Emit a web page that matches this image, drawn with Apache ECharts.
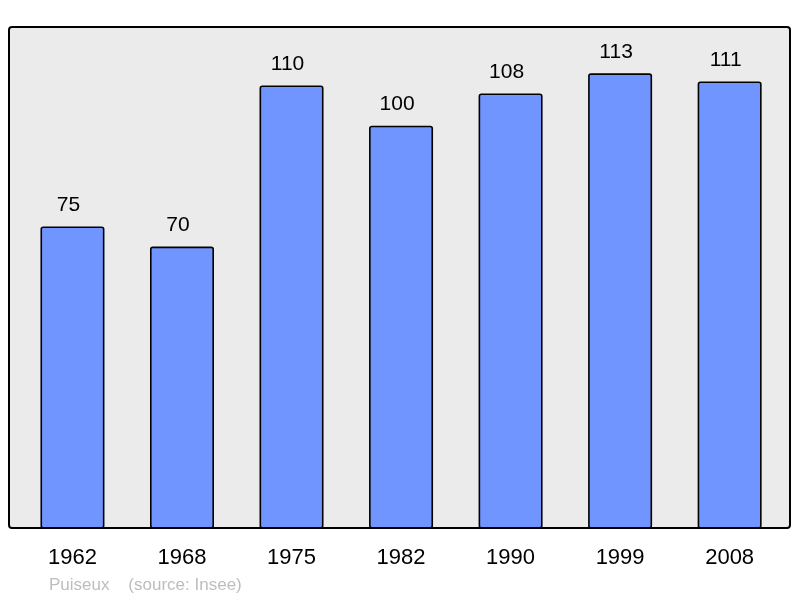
<!DOCTYPE html>
<html>
<head>
<meta charset="utf-8">
<style>html,body{margin:0;padding:0;background:#fff}#c{width:800px;height:598px}</style>
<script src="https://cdn.jsdelivr.net/npm/echarts@6/dist/echarts.min.js"></script>
</head>
<body>
<div id="c"></div>
<script>
const years = ['1962', '1968', '1975', '1982', '1990', '1999', '2008'];
const population = [75, 70, 110, 100, 108, 113, 111];
const captionPlace = 'Puiseux';
const captionSource = '(source: Insee)';

const chart = echarts.init(document.getElementById('c'), null, {renderer: 'canvas'});
chart.setOption({
  animation: false,
  backgroundColor: '#ffffff',
  graphic: [
    {type: 'rect', z: -10, shape: {x: 9, y: 27, width: 781, height: 501, r: 3},
     style: {fill: '#ebebeb', stroke: '#000', lineWidth: 2}},
    {type: 'text', left: 49, top: 577,
     style: {text: captionPlace + '    ' + captionSource, fill: '#bdbdbd', font: '17px "Liberation Sans", Arial, sans-serif'}}
  ],
  grid: {left: 17.7, width: 766.7, top: 27, bottom: 69.5, containLabel: false},
  xAxis: {
    type: 'category', data: years,
    axisLine: {show: false}, axisTick: {show: false},
    axisLabel: {color: '#000', fontSize: 22, fontFamily: '"Liberation Sans", Arial, sans-serif', margin: 18}
  },
  yAxis: {
    type: 'value', min: 0, max: 124.5,
    show: false, splitLine: {show: false}
  },
  series: [{
    type: 'bar', data: population, barWidth: 64,
    itemStyle: {color: '#7095ff', borderColor: '#000', borderWidth: 1.6, borderRadius: 2},
    label: {show: true, position: 'top', distance: 11, offset: [-4, 0], color: '#000', fontSize: 21,
            fontFamily: '"Liberation Sans", Arial, sans-serif'}
  }]
});
</script>
</body>
</html>
